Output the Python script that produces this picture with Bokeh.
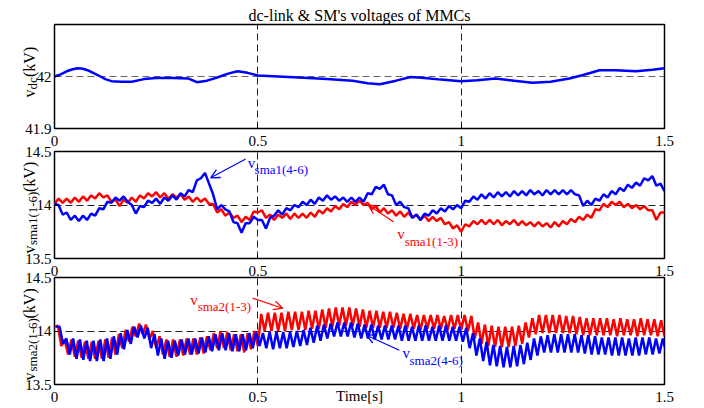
import numpy as np
from bokeh.plotting import figure
from bokeh.layouts import column
from bokeh.models import Range1d, FixedTicker, Label, Arrow, OpenHead
from bokeh.core.properties import value
from bokeh.embed import file_html
from bokeh.resources import INLINE

FONT = "Liberation Serif"
BLUE = "#0000ff"
RED = "#ff0000"

title_text = "dc-link & SM's voltages of MMCs"
x_ticks = [0, 0.5, 1, 1.5]
x_tick_labels = ["0", "0.5", "1", "1.5"]
x_grid = [0.5, 1.0]
dc_ticks = [41.9, 42.0]
dc_tick_labels = ["41.9", "42"]
sm_ticks = [13.5, 14.0, 14.5]
sm_tick_labels = ["13.5", "14", "14.5"]

# ---- panel 1: dc-link voltage (kV)
t_dc = [0.0, 0.015, 0.03, 0.045, 0.057, 0.07, 0.085, 0.1, 0.113, 0.125,
        0.14, 0.165, 0.19, 0.22, 0.25, 0.29, 0.33, 0.35, 0.375, 0.40,
        0.425, 0.45, 0.475, 0.50, 0.55, 0.60, 0.67, 0.733, 0.77, 0.80,
        0.84, 0.876, 0.91, 0.95, 1.00, 1.04, 1.084, 1.13, 1.175, 1.22,
        1.266, 1.30, 1.34, 1.38, 1.43, 1.47, 1.50]
v_dc = [42.000, 42.004, 42.010, 42.014, 42.016, 42.015, 42.011, 42.005, 42.000, 41.995,
        41.991, 41.990, 41.990, 41.995, 41.997, 41.997, 41.996, 41.989, 41.992, 41.998,
        42.005, 42.010, 42.007, 42.002, 42.000, 41.998, 41.995, 41.992, 41.987, 41.985,
        41.992, 41.999, 41.997, 41.994, 41.991, 41.993, 41.996, 41.992, 41.988, 41.990,
        41.996, 42.003, 42.012, 42.012, 42.010, 42.013, 42.016]

# ---- panel 2: MMC1 SM voltages; troughs at t = 0, 0.02, ... and peaks at t = 0.01, 0.03, ...
sma1_13_lo = [14.01, 14.02, 14.02, 14.03, 14.04, 14.06, 14.07, 14.03, 13.99, 14.02,
              14.03, 14.06, 14.08, 14.07, 14.06, 14.07, 14.05, 14.03, 14.03, 14.01,
              13.93, 13.90, 13.88, 13.84, 13.86, 13.93, 13.88, 13.86, 13.88, 13.87,
              13.88, 13.88, 13.89, 13.92, 13.94, 13.96, 13.98, 14.00, 14.00, 13.96,
              13.93, 13.92, 13.90, 13.89, 13.88, 13.86, 13.85, 13.85, 13.82, 13.78,
              13.75, 13.80, 13.82, 13.82, 13.82, 13.81, 13.82, 13.81, 13.81, 13.80,
              13.80, 13.79, 13.80, 13.82, 13.84, 13.86, 13.88, 13.95, 13.98, 14.00,
              13.98, 13.97, 13.96, 13.95, 13.86, 13.93]
sma1_13_hi = [14.06, 14.06, 14.07, 14.08, 14.09, 14.11, 14.09, 14.05, 14.05, 14.07,
              14.09, 14.11, 14.12, 14.11, 14.10, 14.10, 14.08, 14.07, 14.06, 14.01,
              13.96, 13.93, 13.90, 13.89, 13.94, 13.95, 13.91, 13.91, 13.92, 13.92,
              13.92, 13.93, 13.95, 13.97, 13.99, 14.01, 14.03, 14.04, 14.02, 13.99,
              13.97, 13.95, 13.94, 13.93, 13.91, 13.90, 13.89, 13.88, 13.84, 13.81,
              13.82, 13.85, 13.86, 13.86, 13.86, 13.85, 13.86, 13.85, 13.84, 13.84,
              13.83, 13.84, 13.85, 13.87, 13.89, 13.91, 13.96, 14.01, 14.03, 14.03,
              14.01, 14.00, 13.99, 13.95, 13.93]
sma1_46_lo = [14.01, 13.91, 13.86, 13.85, 13.86, 13.90, 13.96, 14.02, 14.04, 14.03,
              13.92, 13.98, 14.02, 14.01, 14.04, 14.05, 14.08, 14.12, 14.25, 14.20,
              13.96, 13.96, 13.84, 13.74, 13.83, 13.86, 13.78, 13.90, 13.91, 13.95,
              13.98, 14.00, 14.01, 14.04, 14.05, 14.04, 14.03, 14.03, 14.03, 14.10,
              14.15, 14.10, 14.00, 13.98, 13.88, 13.86, 13.90, 13.92, 13.94, 13.96,
              13.97, 14.03, 14.05, 14.06, 14.07, 14.08, 14.08, 14.09, 14.09, 14.10,
              14.09, 14.10, 14.10, 14.10, 14.10, 13.99, 14.00, 14.04, 14.07, 14.10,
              14.13, 14.16, 14.18, 14.23, 14.18, 14.13]
sma1_46_hi = [14.00, 13.93, 13.90, 13.90, 13.92, 13.97, 14.03, 14.07, 14.08, 14.00,
              13.99, 14.04, 14.06, 14.07, 14.09, 14.11, 14.14, 14.23, 14.30, 14.10,
              14.00, 13.94, 13.83, 13.83, 13.89, 13.86, 13.88, 13.95, 13.97, 14.00,
              14.03, 14.05, 14.07, 14.09, 14.08, 14.07, 14.07, 14.07, 14.11, 14.17,
              14.19, 14.09, 14.03, 13.97, 13.91, 13.92, 13.95, 13.97, 13.99, 14.00,
              14.04, 14.08, 14.10, 14.11, 14.12, 14.12, 14.13, 14.13, 14.14, 14.13,
              14.14, 14.14, 14.14, 14.14, 14.09, 14.04, 14.06, 14.10, 14.13, 14.16,
              14.19, 14.21, 14.25, 14.27, 14.20]

# ---- panel 3: MMC2 SM voltages; troughs at t = k/60, peaks at t = (k + 0.5)/60
sma2_13_lo = [14.04, 13.86, 13.78, 13.76, 13.75, 13.74, 13.74, 13.74, 13.75, 13.78,
              13.84, 13.90, 13.95, 13.97, 13.92, 13.84, 13.78, 13.76, 13.76, 13.77,
              13.78, 13.78, 13.79, 13.82, 13.84, 13.84, 13.82, 13.81, 13.80, 13.83,
              13.86, 14.00, 14.00, 14.00, 14.00, 14.01, 14.01, 14.01, 14.02, 14.02,
              14.03, 14.04, 14.05, 14.05, 14.05, 14.04, 14.03, 14.03, 14.03, 14.03,
              14.03, 14.02, 14.02, 14.02, 14.01, 14.02, 14.02, 14.02, 14.01, 14.02,
              14.01, 14.00, 13.93, 13.88, 13.86, 13.85, 13.85, 13.85, 13.86, 13.88,
              13.94, 13.97, 13.98, 13.98, 13.98, 13.98, 13.98, 13.97, 13.96, 13.96,
              13.96, 13.96, 13.96, 13.95, 13.96, 13.96, 13.95, 13.96, 13.96, 13.95,
              13.95]
sma2_13_hi = [14.05, 13.92, 13.92, 13.91, 13.90, 13.90, 13.91, 13.92, 13.94, 13.97,
              14.01, 14.04, 14.07, 14.06, 14.00, 13.95, 13.92, 13.92, 13.92, 13.93,
              13.93, 13.94, 13.95, 13.98, 14.00, 13.99, 13.97, 13.97, 13.98, 14.00,
              14.16, 14.17, 14.17, 14.17, 14.18, 14.18, 14.18, 14.19, 14.19, 14.20,
              14.21, 14.22, 14.22, 14.22, 14.21, 14.20, 14.19, 14.19, 14.18, 14.18,
              14.17, 14.16, 14.16, 14.15, 14.15, 14.15, 14.15, 14.14, 14.15, 14.15,
              14.15, 14.14, 14.08, 14.06, 14.05, 14.04, 14.04, 14.04, 14.05, 14.08,
              14.12, 14.15, 14.15, 14.15, 14.15, 14.14, 14.14, 14.13, 14.12, 14.12,
              14.12, 14.12, 14.11, 14.12, 14.11, 14.11, 14.12, 14.11, 14.11, 14.10]
sma2_46_lo = [14.04, 13.88, 13.78, 13.74, 13.73, 13.72, 13.72, 13.72, 13.74, 13.78,
              13.83, 13.88, 13.94, 13.93, 13.84, 13.77, 13.74, 13.75, 13.77, 13.78,
              13.78, 13.79, 13.80, 13.81, 13.82, 13.82, 13.81, 13.81, 13.82, 13.84,
              13.86, 13.84, 13.83, 13.84, 13.84, 13.85, 13.86, 13.87, 13.89, 13.91,
              13.93, 13.95, 13.95, 13.95, 13.94, 13.93, 13.93, 13.92, 13.92, 13.92,
              13.92, 13.91, 13.91, 13.91, 13.91, 13.91, 13.91, 13.91, 13.91, 13.91,
              13.90, 13.84, 13.77, 13.72, 13.68, 13.67, 13.66, 13.66, 13.67, 13.69,
              13.73, 13.77, 13.80, 13.80, 13.80, 13.80, 13.80, 13.80, 13.79, 13.78,
              13.78, 13.78, 13.77, 13.77, 13.77, 13.77, 13.77, 13.78, 13.78, 13.79,
              13.80]
sma2_46_hi = [14.04, 13.93, 13.93, 13.92, 13.91, 13.91, 13.92, 13.93, 13.95, 13.98,
              14.01, 14.04, 14.05, 14.03, 13.97, 13.93, 13.91, 13.91, 13.92, 13.93,
              13.93, 13.94, 13.95, 13.97, 13.98, 13.98, 13.97, 13.97, 13.98, 13.99,
              13.98, 13.99, 13.99, 13.99, 13.99, 14.00, 14.01, 14.03, 14.05, 14.06,
              14.07, 14.08, 14.08, 14.08, 14.07, 14.06, 14.06, 14.05, 14.05, 14.05,
              14.05, 14.05, 14.04, 14.05, 14.05, 14.04, 14.05, 14.05, 14.04, 14.04,
              14.03, 13.98, 13.93, 13.90, 13.87, 13.86, 13.85, 13.86, 13.87, 13.89,
              13.93, 13.95, 13.96, 13.97, 13.97, 13.97, 13.97, 13.96, 13.96, 13.95,
              13.94, 13.94, 13.94, 13.94, 13.93, 13.94, 13.94, 13.94, 13.93, 13.93]

# y-axis titles: (main text, subscript)
ylabel_main = ["v", "(kV)", "v", "(kV)", "v", "(kV)"]
ylabel_sub = ["dc", "sma1(1-6)", "sma2(1-6)"]


def interleave(lo, hi, half_step, shift=0.0):
    vals = []
    for a, b in zip(lo, hi):
        vals += [a, b]
    vals.append(lo[-1])
    ts = [shift + i * half_step for i in range(len(vals))]
    return ts, vals


def make_fig(height, top, bottom, yr, yticks, ylabels, ygrid, ygrid_color, margin_top=0):
    p = figure(width=704, height=height, x_range=Range1d(0, 1.5), y_range=Range1d(*yr),
               output_backend="svg", toolbar_location=None,
               min_border_left=54, min_border_right=40,
               min_border_top=top, min_border_bottom=bottom,
               background_fill_color="white", border_fill_color=None,
               outline_line_color="black", outline_line_width=1.5)
    if margin_top:
        p.margin = (margin_top, 0, 0, 0)
    for ax, ticks, labels in ((p.xaxis, x_ticks, x_tick_labels), (p.yaxis, yticks, ylabels)):
        ax.ticker = FixedTicker(ticks=ticks)
        ax.major_label_overrides = dict(zip(ticks, labels))
        ax.major_tick_in = 4
        ax.major_tick_out = 0
        ax.minor_tick_line_color = None
        ax.axis_line_color = None
        ax.major_tick_line_color = "black"
        ax.major_label_text_font = FONT
        ax.major_label_text_font_size = "15px"
        ax.major_label_text_color = "black"
    p.xaxis.major_label_standoff = 7
    p.yaxis.major_label_standoff = 3
    p.xgrid.ticker = FixedTicker(ticks=x_grid)
    p.ygrid.ticker = FixedTicker(ticks=ygrid)
    p.xgrid.grid_line_color = "#222222"
    p.ygrid.grid_line_color = ygrid_color
    for g in (p.xgrid, p.ygrid):
        g.grid_line_dash = "7 4"
        g.grid_line_width = 1
    return p


def tag(p, color, main_xy, sub_xy, sub_text, arrow):
    p.add_layout(Label(x=main_xy[0], y=main_xy[1], text="v", text_font=FONT,
                       text_font_size="15px", text_color=color, text_baseline="alphabetic"))
    p.add_layout(Label(x=sub_xy[0], y=sub_xy[1], text=sub_text, text_font=FONT,
                       text_font_size="13px", text_color=color, text_baseline="alphabetic"))
    (xs, ys), (xe, ye) = arrow
    p.add_layout(Arrow(end=OpenHead(size=9, line_color=color, line_width=1.3),
                       x_start=xs, y_start=ys, x_end=xe, y_end=ye,
                       line_color=color, line_width=1.2))


# ---------- panel 1
p1 = make_fig(152, 24, 24, (41.9, 42.1), dc_ticks, dc_tick_labels, [41.9, 42.0], "#666666")
p1.line(t_dc, v_dc, line_color=BLUE, line_width=2.5)
p1.title.text = title_text
p1.title.align = "center"
p1.title.text_font = FONT
p1.title.text_font_size = "16px"
p1.title.text_font_style = "normal"
p1.title.text_color = "black"
p1.title.standoff = 2

# ---------- panel 2
p2 = make_fig(146, 15, 24, (13.5, 14.5), sm_ticks, sm_tick_labels, [14.0], "#222222", margin_top=-16)
t, v = interleave(sma1_13_lo, sma1_13_hi, 0.01)
p2.line(t, v, line_color=RED, line_width=2.5)
t, v = interleave(sma1_46_lo, sma1_46_hi, 0.01)
p2.line(t, v, line_color=BLUE, line_width=2.5)
tag(p2, BLUE, (0.475, 14.393), (0.492, 14.335), "sma1(4-6)", ((0.47, 14.43), (0.384, 14.254)))
tag(p2, RED, (0.843, 13.73), (0.861, 13.656), "sma1(1-3)", ((0.834, 13.84), (0.772, 14.0)))

# ---------- panel 3
p3 = make_fig(144, 13, 24, (13.5, 14.5), sm_ticks, sm_tick_labels, [14.0], "#222222", margin_top=-18)
t, v = interleave(sma2_13_lo, sma2_13_hi, 1 / 120)
p3.line(t, v, line_color=RED, line_width=2.5)
t, v = interleave(sma2_46_lo, sma2_46_hi, 1 / 120, shift=1 / 240)
p3.line(t, v, line_color=BLUE, line_width=2.5)
tag(p3, RED, (0.334, 14.288), (0.352, 14.232), "sma2(1-3)", ((0.487, 14.307), (0.561, 14.213)))
tag(p3, BLUE, (0.856, 13.793), (0.873, 13.727), "sma2(4-6)", ((0.848, 13.82), (0.767, 13.961)))
p3.xaxis.axis_label = "Time[s]"
p3.xaxis.axis_label_text_font = FONT
p3.xaxis.axis_label_text_font_size = "15px"
p3.xaxis.axis_label_text_font_style = "normal"
p3.xaxis.axis_label_text_color = "black"
p3.xaxis.axis_label_standoff = -17

# ---------- transparent overlay (pixel space) carrying the rotated y-axis titles
H = 408
ov = figure(width=704, height=H, x_range=Range1d(0, 704), y_range=Range1d(0, H),
            output_backend="svg", toolbar_location=None, min_border=0,
            x_axis_type=None, y_axis_type=None,
            background_fill_color=None, border_fill_color=None, outline_line_color=None)
ov.frame_align = False
ov.xgrid.visible = False
ov.ygrid.visible = False
ov.margin = (-H, 0, 0, 0)
main_x = [28.5, 28.5, 28.5, 28.5, 28.5, 28.5]
main_top = [97, 76.5, 253, 191.5, 380, 318]
sub_x = [32, 32, 32]
sub_top = [89, 244.5, 371]
ov.text(x=main_x, y=[H - y for y in main_top], text=ylabel_main, angle=np.pi / 2,
        text_align="left", text_baseline="alphabetic", text_font=value(FONT),
        text_font_size="16px", text_color="black")
ov.text(x=sub_x, y=[H - y for y in sub_top], text=ylabel_sub, angle=np.pi / 2,
        text_align="left", text_baseline="alphabetic", text_font=value(FONT),
        text_font_size="13px", text_color="black")

layout = column(p1, p2, p3, ov)
open("out.html", "w").write(file_html(layout, INLINE))
